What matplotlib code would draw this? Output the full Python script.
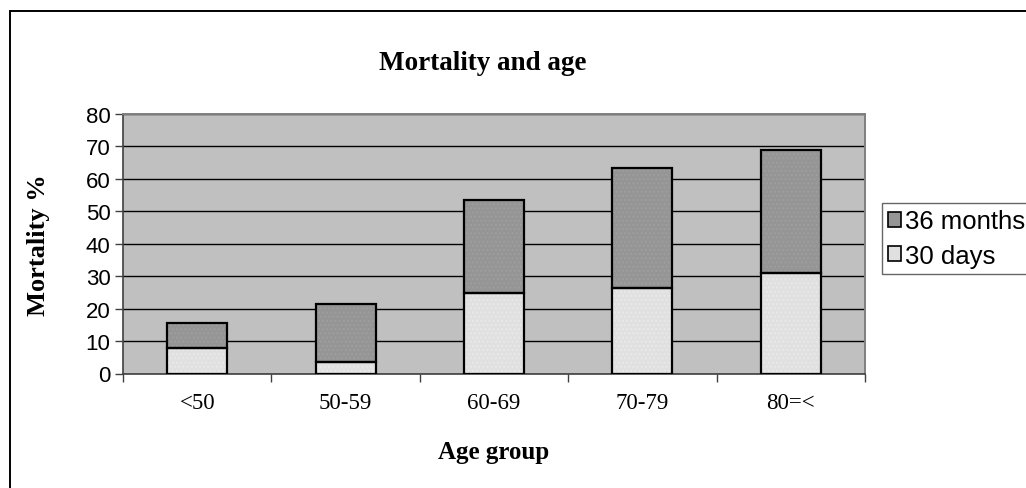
import matplotlib
matplotlib.use("Agg")
import matplotlib.pyplot as plt
from matplotlib.patches import Rectangle, Patch
import numpy as np

age_groups = ["<50", "50-59", "60-69", "70-79", "80=<"]
days_30 = [8.0, 3.5, 24.9, 26.5, 30.9]
months_36_total = [15.7, 21.3, 53.4, 63.3, 68.9]
months_36 = [t - d for t, d in zip(months_36_total, days_30)]
y_ticks = [0, 10, 20, 30, 40, 50, 60, 70, 80]

W, H = 1026, 489
fig = plt.figure(figsize=(W / 100, H / 100), dpi=100)
fig.patch.set_facecolor("white")

# outer chart frame
fig.add_artist(Rectangle((10 / W, -0.2), 1.2, 1.2 - 12 / H,
                         transform=fig.transFigure, fill=False,
                         edgecolor="black", linewidth=1.4))

ax = fig.add_axes([123 / W, (H - 374.5) / H, (865 - 123) / W, (374.5 - 115) / H])
ax.set_facecolor("#C0C0C0")

x = np.arange(len(age_groups))
width = 0.405

light = "#E0E0E0"
light_dots = "#E9E9E9"
dark = "#959595"
dark_dots = "#9E9E9E"

# filled bars with a fine stipple
ax.bar(x, days_30, width, color=light, edgecolor=light_dots, hatch="....",
       linewidth=0, zorder=3)
ax.bar(x, months_36, width, bottom=days_30, color=dark, edgecolor=dark_dots,
       hatch="....", linewidth=0, zorder=3)
# outlines
ax.bar(x, days_30, width, fill=False, edgecolor="black", linewidth=1.6, zorder=4)
ax.bar(x, months_36, width, bottom=days_30, fill=False, edgecolor="black",
       linewidth=1.6, zorder=4)

ax.set_xlim(-0.5, len(age_groups) - 0.5)
ax.set_ylim(0, 80)
ax.set_yticks(y_ticks)
ax.set_yticklabels([str(v) for v in y_ticks], family="Liberation Sans", fontsize=16)
ax.yaxis.grid(True, color="black", linewidth=1.0, zorder=1)
ax.set_axisbelow(True)

ax.set_xticks(x)
ax.set_xticklabels(age_groups, family="Liberation Serif", fontsize=16.5)
ax.tick_params(axis="x", length=0, pad=13)
ax.set_xticks(np.arange(len(age_groups) + 1) - 0.5, minor=True)
ax.tick_params(axis="x", which="minor", length=6, width=1, color="#404040", direction="out")
ax.tick_params(axis="y", length=6, width=1, color="#404040", direction="out", pad=3)

for side in ("left", "bottom"):
    ax.spines[side].set_color("#404040")
    ax.spines[side].set_linewidth(1.2)
for side in ("top", "right"):
    ax.spines[side].set_color("#808080")
    ax.spines[side].set_linewidth(1.4)

fig.text(483 / W, 1 - 64 / H, "Mortality and age", family="Liberation Serif",
         fontweight="bold", fontsize=19.5, ha="center", va="center")
fig.text(494 / W, 1 - 453 / H, "Age group", family="Liberation Serif",
         fontweight="bold", fontsize=18, ha="center", va="center")
fig.text(38 / W, 1 - 245 / H, "Mortality %", family="Liberation Serif",
         fontweight="bold", fontsize=19, ha="center", va="center", rotation=90)

handles = [Patch(facecolor=dark, edgecolor="black", linewidth=1.2),
           Patch(facecolor=light, edgecolor="black", linewidth=1.2)]
leg = fig.legend(handles, ["36 months", "30 days"], loc="upper left",
                 bbox_to_anchor=(881.5 / W, 1 - 204 / H),
                 prop={"family": "Liberation Sans", "size": 18.5},
                 frameon=True, fancybox=False, edgecolor="#404040",
                 handlelength=0.5, handleheight=0.5, handletextpad=0.15,
                 borderpad=0.25, labelspacing=0.4, borderaxespad=0)
leg.get_frame().set_linewidth(1.0)

fig.savefig("out.png", dpi=100, facecolor="white")
